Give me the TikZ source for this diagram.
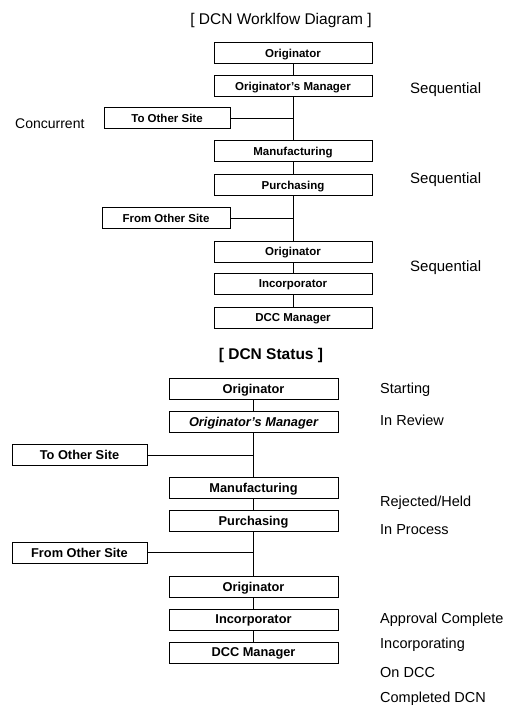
\documentclass[tikz,border=0pt]{standalone}
\usepackage{fontspec}
\setmainfont{Liberation Sans}
\begin{document}
\begin{tikzpicture}[x=1pt,y=-1pt,
  boxa/.style={draw,line width=0.8pt,minimum width=158pt,minimum height=21pt,inner sep=0pt,text depth=0pt,font=\fontsize{11.5}{12}\selectfont\bfseries},
  boxb/.style={draw,line width=0.8pt,minimum width=169pt,minimum height=21pt,inner sep=0pt,text depth=0pt,font=\fontsize{12.8}{14}\selectfont\bfseries},
  lbl/.style={anchor=west,inner sep=0pt,font=\fontsize{14.5}{16}\selectfont},
  conn/.style={line width=1pt}]
\useasboundingbox (0,0) rectangle (510,709);
% top diagram
\node[font=\fontsize{15.5}{17}\selectfont] (t1) at (281,20) {[ DCN Worklfow Diagram ]};
\node[boxa] (o1) at (293,53) {Originator};
\node[boxa] (om1) at (293,86) {Originator's Manager};
\node[boxa,minimum width=126pt] (to1) at (167,118) {To Other Site};
\node[boxa] (mf1) at (293,151) {Manufacturing};
\node[boxa] (pu1) at (293,185) {Purchasing};
\node[boxa,minimum width=128pt] (fr1) at (166,218) {From Other Site};
\node[boxa] (o2) at (293,251.5) {Originator};
\node[boxa] (in1) at (293,284) {Incorporator};
\node[boxa] (dc1) at (293,317.5) {DCC Manager};
\node[lbl,font=\fontsize{14}{16}\selectfont] (cc) at (15,124) {Concurrent};
\node[lbl,font=\fontsize{15}{16}\selectfont] (s1) at (410,90) {Sequential};
\node[lbl,font=\fontsize{15}{16}\selectfont] (s2) at (410,180) {Sequential};
\node[lbl,font=\fontsize{15}{16}\selectfont] (s3) at (410,268) {Sequential};
\draw[conn] (o1) -- (om1);
\draw[conn] (om1) -- (mf1);
\draw[conn] (mf1) -- (pu1);
\draw[conn] (pu1) -- (o2);
\draw[conn] (o2) -- (in1);
\draw[conn] (in1) -- (dc1);
\draw[conn] (to1.east) -- (to1.east -| om1.south);
\draw[conn] (fr1.east) -- (fr1.east -| pu1.south);
% bottom diagram
\node[font=\fontsize{15.5}{17}\selectfont\bfseries] (t2) at (271,355) {[ DCN Status ]};
\node[boxb] (o3) at (253.5,388.5) {Originator};
\node[boxb,font=\fontsize{12.8}{14}\selectfont\bfseries\itshape] (om2) at (253.5,421.5) {Originator's Manager};
\node[boxb,minimum width=135pt] (to2) at (79.5,455) {To Other Site};
\node[boxb] (mf2) at (253.5,487.5) {Manufacturing};
\node[boxb] (pu2) at (253.5,520.5) {Purchasing};
\node[boxb,minimum width=135pt] (fr2) at (79.5,552.5) {From Other Site};
\node[boxb] (o4) at (253.5,586.5) {Originator};
\node[boxb] (in2) at (253.5,619.5) {Incorporator};
\node[boxb] (dc2) at (253.5,652.5) {DCC Manager};
\draw[conn] (o3) -- (om2);
\draw[conn] (om2) -- (mf2);
\draw[conn] (mf2) -- (pu2);
\draw[conn] (pu2) -- (o4);
\draw[conn] (o4) -- (in2);
\draw[conn] (in2) -- (dc2);
\draw[conn] (to2.east) -- (to2.east -| om2.south);
\draw[conn] (fr2.east) -- (fr2.east -| pu2.south);
\node[lbl] (l1) at (380,390) {Starting};
\node[lbl] (l2) at (380,420) {In Review};
\node[lbl] (l3) at (380,503) {Rejected/Held};
\node[lbl] (l4) at (380,530) {In Process};
\node[lbl] (l5) at (380,620) {Approval Complete};
\node[lbl] (l6) at (380,645) {Incorporating};
\node[lbl] (l7) at (380,672) {On DCC};
\node[lbl] (l8) at (380,699) {Completed DCN};
\end{tikzpicture}
\end{document}
